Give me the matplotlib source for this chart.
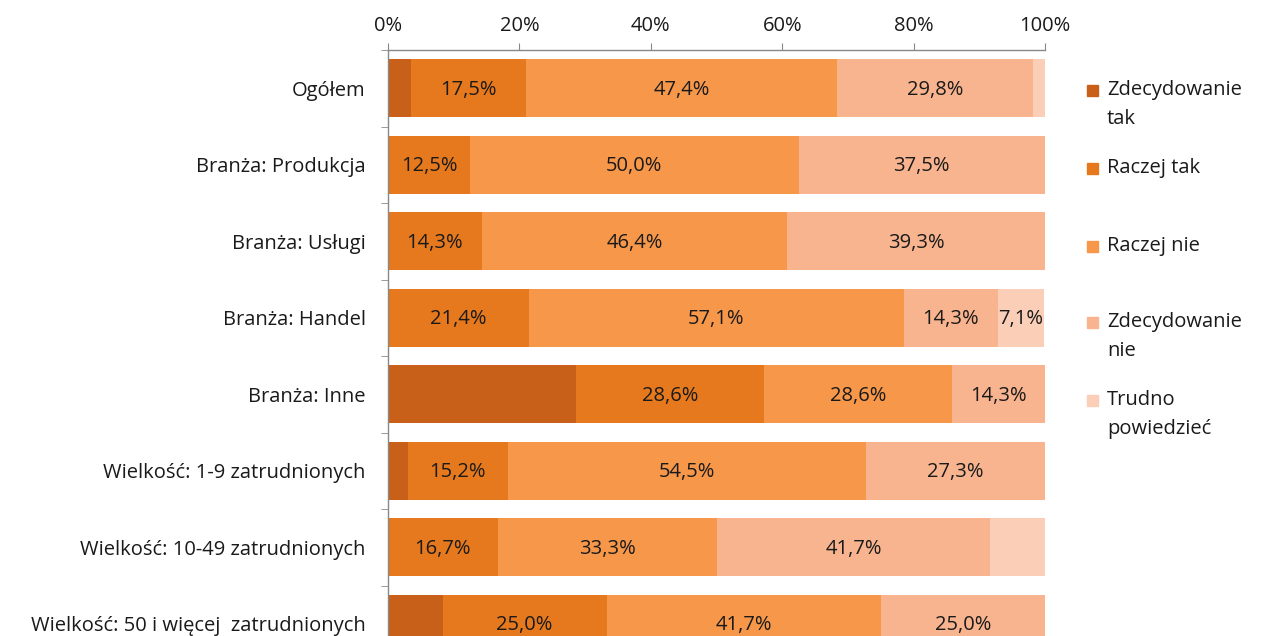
import matplotlib
matplotlib.use("Agg")
import matplotlib.pyplot as plt
from matplotlib.patches import Rectangle
import numpy as np

plt.rcParams['font.family'] = ['Open Sans', 'DejaVu Sans']

categories = [
    "Ogółem",
    "Branża: Produkcja",
    "Branża: Usługi",
    "Branża: Handel",
    "Branża: Inne",
    "Wielkość: 1-9 zatrudnionych",
    "Wielkość: 10-49 zatrudnionych",
    "Wielkość: 50 i więcej  zatrudnionych",
]

series_names = ["Zdecydowanie\ntak", "Raczej tak", "Raczej nie",
                "Zdecydowanie\nnie", "Trudno\npowiedzieć"]

zdecydowanie_tak = [3.5, 0.0, 0.0, 0.0, 28.6, 3.0, 0.0, 8.3]
raczej_tak = [17.5, 12.5, 14.3, 21.4, 28.6, 15.2, 16.7, 25.0]
raczej_nie = [47.4, 50.0, 46.4, 57.1, 28.6, 54.5, 33.3, 41.7]
zdecydowanie_nie = [29.8, 37.5, 39.3, 14.3, 14.3, 27.3, 41.7, 25.0]
trudno = [1.8, 0.0, 0.0, 7.1, 0.0, 0.0, 8.3, 0.0]

# which segments carry a value label (per series, per category)
show_label = [
    [False] * 8,
    [True] * 8,
    [True] * 8,
    [True] * 8,
    [False, False, False, True, False, False, False, False],
]

colors = ["#C9601A", "#E6791D", "#F6974A", "#F8B48F", "#FBCEB8"]

series = [zdecydowanie_tak, raczej_tak, raczej_nie, zdecydowanie_nie, trudno]

FS = 14.5
W, H = 1261, 636
fig = plt.figure(figsize=(W / 100, H / 100), dpi=100)
top_px, bot_px = 50, 662
ax = fig.add_axes([388 / W, 1 - bot_px / H, 657 / W, (bot_px - top_px) / H])

y = np.arange(len(categories))
left = np.zeros(len(categories))
for vals, col, flags in zip(series, colors, show_label):
    vals = np.array(vals)
    ax.barh(y, vals, left=left, height=0.76, color=col, linewidth=0)
    for i, (v, f) in enumerate(zip(vals, flags)):
        if f and v > 0:
            ax.text(left[i] + v / 2, y[i] + 0.02, f"{v:.1f}%".replace(".", ","),
                    ha="center", va="center", fontsize=FS, color="#1a1a1a")
    left += vals

ax.set_xlim(0, 100)
ax.set_ylim(len(categories) - 0.5, -0.5)
ax.xaxis.tick_top()
ax.set_xticks(np.arange(0, 101, 20))
ax.set_xticklabels([f"{t}%" for t in range(0, 101, 20)])
ax.tick_params(axis="x", length=5, color="#888888", labelsize=FS,
               labelcolor="#1a1a1a", pad=5)

ax.set_yticks(y)
ax.set_yticklabels(categories)
ax.tick_params(axis="y", which="major", length=0, pad=16, labelsize=FS,
               labelcolor="#1a1a1a")
ax.set_yticks(np.arange(-0.5, len(categories), 1), minor=True)
ax.tick_params(axis="y", which="minor", length=5, color="#888888")

for side in ["right", "bottom"]:
    ax.spines[side].set_visible(False)
for side in ["top", "left"]:
    ax.spines[side].set_color("#888888")
    ax.spines[side].set_linewidth(1)

# legend on the right
leg_y = [90, 168, 246, 322, 400]
for name, col, yp in zip(series_names, colors, leg_y):
    fig.patches.append(Rectangle((1087 / W, 1 - (yp + 6) / H), 11 / W, 11 / H,
                                 transform=fig.transFigure, color=col))
    fig.text(1107 / W, 1 - (yp - 10) / H, name, ha="left", va="top",
             fontsize=FS, color="#1a1a1a", linespacing=1.6)

fig.savefig("out.png", dpi=100)
